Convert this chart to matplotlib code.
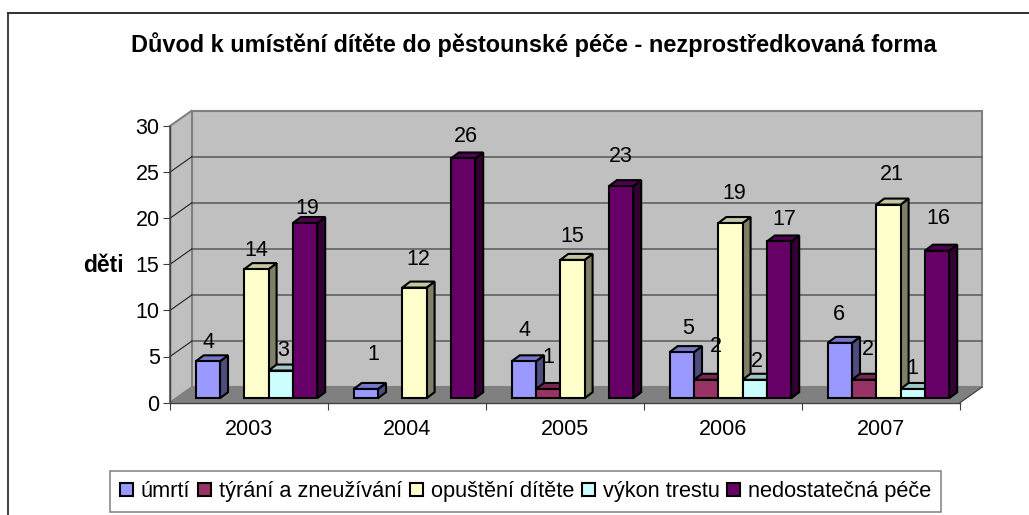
import numpy as np
import matplotlib
matplotlib.use("Agg")
import matplotlib.pyplot as plt
from matplotlib.lines import Line2D
from matplotlib.patches import Patch, Polygon

plt.rcParams['font.family'] = ['Liberation Sans', 'DejaVu Sans']

# ---- data ----
years = ['2003', '2004', '2005', '2006', '2007']
umrti = [4, 1, 4, 5, 6]
tyrani = [0, 0, 1, 2, 2]
opusteni = [14, 12, 15, 19, 21]
vykon = [3, 0, 0, 2, 1]
pece = [19, 26, 23, 17, 16]
series_names = ['úmrtí', 'týrání a zneužívání', 'opuštění dítěte', 'výkon trestu', 'nedostatečná péče']
title = 'Důvod k umístění dítěte do pěstounské péče - nezprostředkovaná forma'
ylabel = 'děti'

# ---- style ----
colors = ['#9999FF', '#993366', '#FFFFCC', '#CCFFFF', '#660066']
W, H = 1029, 515
AX_L, AX_R, AX_T, AX_B = 170.0, 960.0, 126.0, 402.6
YMAX = 30
PX_X = 5 / (AX_R - AX_L)         # categories per pixel
PX_Y = YMAX / (AX_B - AX_T)      # values per pixel
WALL_DX, WALL_DY = 22 * PX_X, 15.5 * PX_Y
BAR_X0, BAR_W = 25.7 * PX_X, 24.3 * PX_X
BAR_Y0 = 4.4 * PX_Y
BAR_DX, BAR_DY = 8 * PX_X, 6 * PX_Y

# label nudges in pixels relative to bar's front top-centre, per series and year
label_dx = [[1, 7, 1, 6, -1], [0, 0, 0, 10, 4], [0, 4, 0, 4, 3], [2, 0, 0, 2, 0], [2, 3, 0, 5, 1]]
label_dy = [[19, 34, 31, 24, 28], [0, 0, 31, 33, 30], [19, 28, 23, 30, 30],
            [20, 0, 0, 18, 20], [15, 22, 30, 22, 32]]


def shade(hex_color, f):
    rgb = np.array(matplotlib.colors.to_rgb(hex_color)) * f
    return tuple(rgb)


fig = plt.figure(figsize=(W / 100, H / 100), dpi=100, facecolor='white')
ax = fig.add_axes([AX_L / W, 1 - AX_B / H, (AX_R - AX_L) / W, (AX_B - AX_T) / H])
ax.set_xlim(0, len(years))
ax.set_ylim(0, YMAX)
ax.patch.set_visible(False)
for s in ('top', 'right'):
    ax.spines[s].set_visible(False)
for s in ('left', 'bottom'):
    ax.spines[s].set_color('#404040')
    ax.spines[s].set_linewidth(1.0)
    ax.spines[s].set_zorder(6)

n = len(years)
# floor, back wall, side wall
ax.add_patch(Polygon([(0, 0), (n, 0), (n + WALL_DX, WALL_DY), (WALL_DX, WALL_DY)],
                     fc='#808080', ec='#808080', lw=0.8, clip_on=False, zorder=1))
ax.add_patch(Polygon([(WALL_DX, WALL_DY), (n + WALL_DX, WALL_DY), (n + WALL_DX, YMAX + WALL_DY), (WALL_DX, YMAX + WALL_DY)],
                     fc='#C0C0C0', ec='#808080', lw=1.5, clip_on=False, zorder=1))
ax.add_patch(Polygon([(0, 0), (WALL_DX, WALL_DY), (WALL_DX, YMAX + WALL_DY), (0, YMAX)],
                     fc='#C0C0C0', ec='#808080', lw=1.5, clip_on=False, zorder=1))
# front floor edge right-hand slope
ax.plot([n, n + WALL_DX], [0, WALL_DY], color='#404040', lw=0.8, clip_on=False, zorder=2)

for v in range(5, YMAX, 5):
    ax.plot([WALL_DX, n + WALL_DX], [v + WALL_DY] * 2, color='#606060', lw=1.2, clip_on=False, zorder=2)
    ax.plot([0, WALL_DX], [v, v + WALL_DY], color='#202020', lw=0.8, clip_on=False, zorder=2)

# bars
z = 3.0
all_series = [umrti, tyrani, opusteni, vykon, pece]
for c in range(n):
    for i, vals in enumerate(all_series):
        v = vals[c]
        if v == 0:
            continue
        x0 = c + BAR_X0 + i * BAR_W
        x1 = x0 + BAR_W
        y0 = BAR_Y0
        y1 = BAR_Y0 + v
        kw = dict(ec='black', lw=1.5, joinstyle='miter', clip_on=False, zorder=z)
        ax.add_patch(Polygon([(x1, y0), (x1 + BAR_DX, y0 + BAR_DY), (x1 + BAR_DX, y1 + BAR_DY), (x1, y1)],
                             fc=shade(colors[i], 0.5), **kw))
        ax.add_patch(Polygon([(x0, y1), (x1, y1), (x1 + BAR_DX, y1 + BAR_DY), (x0 + BAR_DX, y1 + BAR_DY)],
                             fc=shade(colors[i], 0.78), **kw))
        ax.add_patch(Polygon([(x0, y0), (x1, y0), (x1, y1), (x0, y1)], fc=colors[i], **kw))
        z += 0.01
        ax.annotate(str(v), xy=((x0 + x1) / 2, y1),
                    xytext=(label_dx[i][c], label_dy[i][c]), textcoords='offset pixels',
                    ha='center', va='center', fontsize=15.5, color='black',
                    annotation_clip=False, zorder=8)

# axes ticks
ax.set_yticks(range(0, YMAX + 1, 5))
ax.tick_params(axis='y', length=5, width=0.8, color='#404040', labelsize=15.5, pad=2.5)
ax.set_xticks(range(n + 1))
ax.set_xticklabels([])
ax.tick_params(axis='x', which='major', length=5, width=0.8, color='#404040')
ax.set_xticks(np.arange(n) + 0.5, minor=True)
ax.set_xticklabels(years, minor=True)
ax.tick_params(axis='x', which='minor', length=0, labelsize=15.5, pad=11.5)

fig.text(103 / W, 1 - 266 / H, ylabel, ha='center', va='center', fontsize=16.5, fontweight='bold')
fig.text(534 / W, 1 - 44.5 / H, title, ha='center', va='center', fontsize=16.9, fontweight='bold')

# outer chart frame (top and left edges only are in view)
fig.add_artist(Line2D([7.5 / W, 7.5 / W], [0, 1 - 13 / H], color='#202020', lw=1.2))
fig.add_artist(Line2D([7.5 / W, 1], [1 - 13 / H, 1 - 13 / H], color='#303030', lw=1.4))

handles = [Patch(fc=c, ec='black', lw=1.5) for c in colors]
leg = fig.legend(handles, series_names, ncol=5, loc='center',
                 bbox_to_anchor=(525.5 / W, 1 - 491.7 / H), fontsize=15.65,
                 frameon=True, fancybox=False, edgecolor='#808080', framealpha=1,
                 handlelength=0.6, handleheight=0.6, handletextpad=0.36,
                 columnspacing=0.36, borderpad=0.45, borderaxespad=0)
leg.get_frame().set_linewidth(1.1)

fig.savefig('out.png', dpi=100)
